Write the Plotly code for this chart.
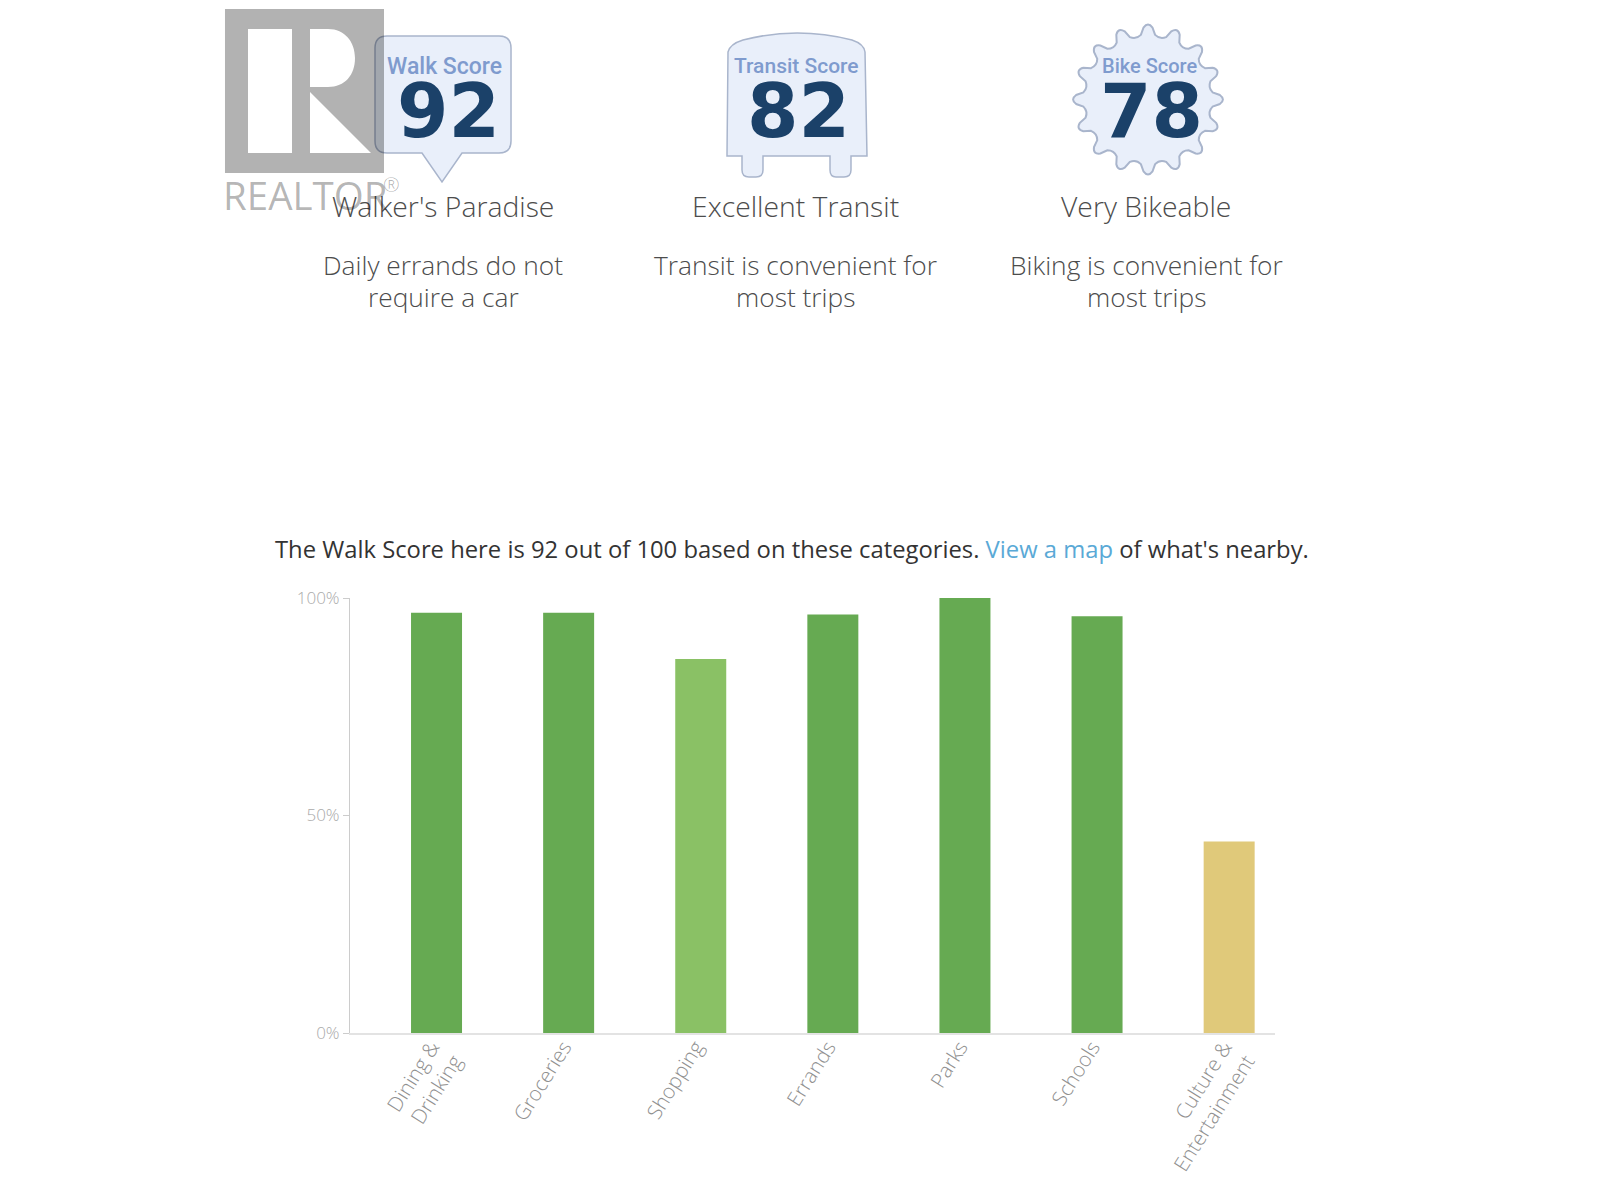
import math

import plotly.graph_objects as go

W = 1600
H = 1200

categories = ['Dining &<br>Drinking', 'Groceries', 'Shopping', 'Errands', 'Parks', 'Schools', 'Culture &<br>Entertainment']
values = [96.6, 96.6, 86, 96.2, 100, 95.8, 44]
bar_colors = ['#66aa52', '#66aa52', '#8ac165', '#66aa52', '#66aa52', '#66aa52', '#e0c97a']
tick_vals = [0, 50, 100]
tick_text = ['0%', '50%', '100%']

score_names = ['Walk Score', 'Transit Score', 'Bike Score']
score_values = ['92', '82', '78']
score_titles = ["Walker's Paradise", 'Excellent Transit', 'Very Bikeable']
score_line1 = ['Daily errands do not', 'Transit is convenient for', 'Biking is convenient for']
score_line2 = ['require a car', 'most trips', 'most trips']
score_x = [443, 795, 1146]
name_x = [444, 796, 1149]
digit_x = [448, 798.5, 1151]
name_sizes = [23, 21, 20]

BADGE_FILL = '#e9effa'
BADGE_LINE = '#a9b5cc'
DARK_BLUE = '#1b4169'
LIGHT_BLUE = '#7f9bce'
WATERMARK = 'rgba(0,0,0,0.3)'
TEXT_GRAY = '#4c4c4c'


def add_text(figure, x, y, text, size, color, family='Open Sans', weight=None):
	figure.add_annotation(
		x=x / W, y=1 - y / H, xref='paper', yref='paper',
		xanchor='center', yanchor='middle', showarrow=False,
		text=text,
		font={'family': family, 'size': size, 'color': color, 'weight': weight},
	)


def add_path(figure, path, fill, line=None, width=1.5):
	figure.add_shape(
		type='path', xref='paper', yref='paper', path=path, fillcolor=fill,
		line={'color': line if line else 'rgba(0,0,0,0)', 'width': width if line else 0},
	)


# everything below is given in pixels from the top left of the page
def px(x, y):
	return f'{x / W:.5f},{1 - y / H:.5f}'


def walk_badge():
	return (
		f'M{px(387, 36)} L{px(499, 36)} Q{px(511, 36)} {px(511, 48)} L{px(511, 141)} Q{px(511, 153)} {px(499, 153)} '
		f'L{px(462, 153)} L{px(442, 182)} L{px(422, 153)} L{px(387, 153)} Q{px(375, 153)} {px(375, 141)} L{px(375, 48)} '
		f'Q{px(375, 36)} {px(387, 36)} Z'
	)


def transit_badge():
	return (
		f'M{px(728, 52)} Q{px(730, 44)} {px(743, 40)} Q{px(797, 26)} {px(852, 40)} Q{px(864, 44)} {px(865, 52)} '
		f'L{px(867, 156)} L{px(851, 156)} L{px(851, 170)} Q{px(851, 177)} {px(844, 177)} L{px(836, 177)} '
		f'Q{px(830, 177)} {px(830, 170)} L{px(830, 156)} L{px(763, 156)} L{px(763, 170)} Q{px(763, 177)} {px(756, 177)} '
		f'L{px(749, 177)} Q{px(742, 177)} {px(742, 170)} L{px(742, 156)} L{px(727, 156)} Z'
	)


def polar(cx, cy, r, a):
	return px(cx + r * math.cos(a), cy + r * math.sin(a))


def bike_badge(cx=1148, cy=99.5, teeth=16, outer=75, root=62):
	step = 2 * math.pi / teeth
	parts = []
	for i in range(teeth):
		a = -math.pi / 2 + i * step
		start = polar(cx, cy, root + 3, a - step * 0.28)
		if i == 0:
			parts.append(f'M{start}')
		parts.append(f'L{polar(cx, cy, outer - 3, a - step * 0.16)}')
		parts.append(f'Q{polar(cx, cy, outer + 3, a)} {polar(cx, cy, outer - 3, a + step * 0.16)}')
		parts.append(f'L{polar(cx, cy, root + 3, a + step * 0.28)}')
		parts.append(f'Q{polar(cx, cy, root - 1, a + step * 0.5)} {polar(cx, cy, root + 3, a + step * 0.72)}')
	return ' '.join(parts) + ' Z'


def realtor_logo():
	# gray block with the R cut out of it
	return (
		f'M{px(225, 9)} L{px(384, 9)} L{px(384, 173)} L{px(225, 173)} Z '
		f'M{px(248, 29)} L{px(292, 29)} L{px(292, 153)} L{px(248, 153)} Z '
		f'M{px(310, 29)} L{px(328, 29)} C{px(345, 29)} {px(355, 42)} {px(355, 58)} '
		f'C{px(355, 75)} {px(345, 87)} {px(328, 87)} L{px(310, 87)} Z '
		f'M{px(310, 92)} L{px(371, 153)} L{px(310, 153)} Z'
	)


fig = go.Figure()
fig.add_trace(go.Bar(
	x=list(range(len(categories))),
	y=values,
	width=0.386,
	marker={'color': bar_colors, 'line': {'width': 0}},
	showlegend=False,
))

add_path(fig, walk_badge(), BADGE_FILL, BADGE_LINE)
add_path(fig, transit_badge(), BADGE_FILL, BADGE_LINE)
add_path(fig, bike_badge(), BADGE_FILL, BADGE_LINE, 2)
add_path(fig, realtor_logo(), WATERMARK)

for i in range(3):
	add_text(fig, name_x[i], 66, score_names[i], name_sizes[i], LIGHT_BLUE, 'Roboto', 500)
	add_text(fig, digit_x[i], 111, score_values[i], 74, DARK_BLUE, 'DejaVu Sans', 700)
	add_text(fig, score_x[i], 206, score_titles[i], 28.3, TEXT_GRAY, 'Open Sans', 300)
	add_text(fig, score_x[i], 265, score_line1[i], 26.3, TEXT_GRAY, 'Open Sans', 300)
	add_text(fig, score_x[i], 297, score_line2[i], 26.3, TEXT_GRAY, 'Open Sans', 300)

add_text(fig, 305, 195, 'REALTOR', 38.5, WATERMARK, 'Open Sans', 400)
add_text(fig, 391, 184, '®', 20, WATERMARK, 'Open Sans', 300)

add_text(
	fig, 792, 549,
	"The Walk Score here is 92 out of 100 based on these categories. "
	"<span style='color:#5aa9d6'>View a map</span> of what's nearby.",
	23.8, '#333333', 'Open Sans', 400,
)

fig.update_layout(
	width=W,
	height=H,
	margin={'l': 0, 'r': 0, 't': 0, 'b': 0},
	paper_bgcolor='white',
	plot_bgcolor='white',
	xaxis={
		'domain': [350 / W, 1275 / W],
		'range': [-0.655, 6.347],
		'automargin': False,
		'tickvals': list(range(len(categories))),
		'ticktext': categories,
		'tickangle': -58,
		'tickfont': {'family': 'Open Sans', 'size': 20.5, 'color': '#909090', 'weight': 300},
		'ticklabelstandoff': -8,
		'ticklabelshift': -5,
		'ticks': '',
		'showgrid': False,
		'zeroline': False,
		'showline': True,
		'linecolor': '#e3e3e3',
		'linewidth': 2,
	},
	yaxis={
		'domain': [1 - 1033 / H, 1 - 598 / H],
		'range': [0, 100],
		'automargin': False,
		'tickvals': tick_vals,
		'ticktext': tick_text,
		'tickfont': {'family': 'Open Sans', 'size': 17, 'color': '#aaaaaa', 'weight': 300},
		'ticks': 'outside',
		'ticklen': 6,
		'tickcolor': '#cccccc',
		'showgrid': False,
		'zeroline': False,
		'showline': True,
		'linecolor': '#cccccc',
		'linewidth': 1,
	},
)

fig.write_html('out.html', config={'displayModeBar': False}, post_script="document.body.style.margin='0';")
